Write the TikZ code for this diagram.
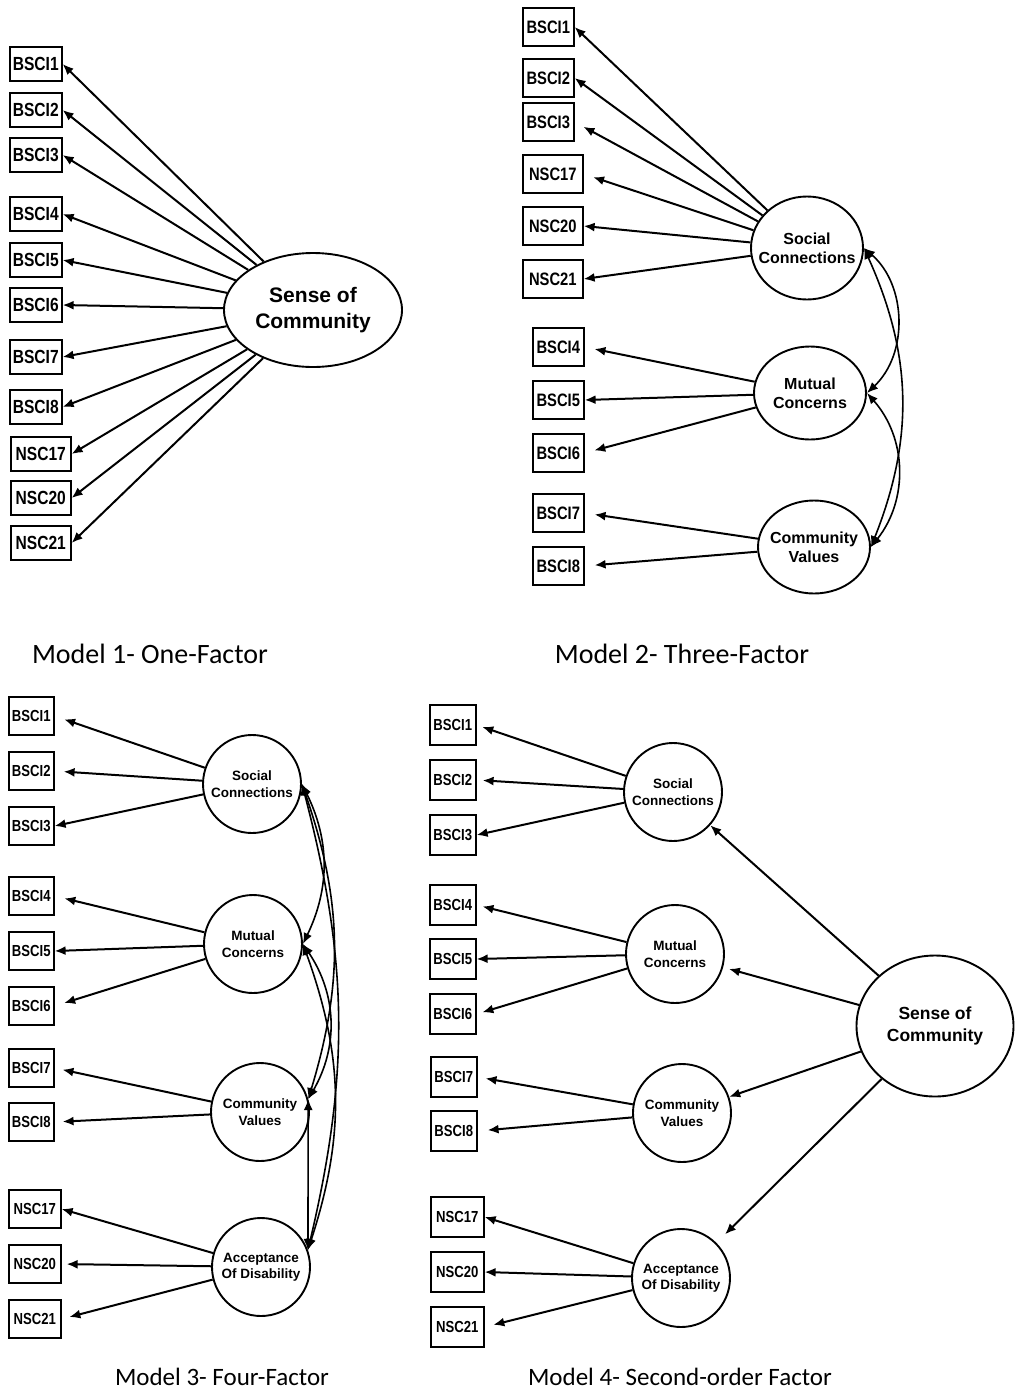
\documentclass[tikz,border=0pt]{standalone}
\usepackage{fontspec}
\setmainfont{Liberation Sans}
\newfontfamily\itemfont[FakeStretch=0.82]{Liberation Sans}
\newfontfamily\capfont{Carlito}
\usetikzlibrary{arrows.meta,shapes.geometric}
\tikzset{>={Latex[length=11pt,width=9pt]}}
\tikzset{
  box/.style={draw, line width=1.6pt, anchor=west, inner xsep=3pt, inner ysep=0pt},
  box1/.style={box, minimum height=34pt, minimum width=52pt, font={\itemfont\bfseries\fontsize{19pt}{19pt}\selectfont}},
  box2/.style={box, minimum height=38pt, minimum width=51pt, font={\itemfont\bfseries\fontsize{18pt}{18pt}\selectfont}},
  box3/.style={box, minimum height=38pt, minimum width=45pt, font={\itemfont\bfseries\fontsize{16pt}{16pt}\selectfont}},
  box4/.style={box, minimum height=40pt, minimum width=46pt, font={\itemfont\bfseries\fontsize{16pt}{16pt}\selectfont}},
  wide/.style={minimum width=#1},
  fac/.style={draw, line width=1.9pt, align=center, inner sep=0pt},
  fac1/.style={fac, ellipse, minimum width=178pt, minimum height=114pt, font={\bfseries\fontsize{21pt}{26pt}\selectfont}},
  fac2/.style={fac, ellipse, inner xsep=-12pt, minimum width=112pt, minimum height=93pt, font={\bfseries\fontsize{16pt}{19pt}\selectfont}},
  fac3/.style={fac, circle, minimum size=98pt, font={\bfseries\fontsize{13.5pt}{16.5pt}\selectfont}},
  fac4/.style={fac, ellipse, minimum width=157pt, minimum height=141pt, font={\bfseries\fontsize{17.5pt}{22pt}\selectfont}},
  load/.style={->, line width=2pt},
  gap/.style={shorten >=#1},
  cov/.style={<->, line width=1.6pt},
  title/.style={font={\capfont\fontsize{28pt}{28pt}\selectfont}},
  title2/.style={font={\capfont\fontsize{25pt}{25pt}\selectfont}}
}
\begin{document}
\begin{tikzpicture}[x=1pt, y=-1pt]
\useasboundingbox (0,0) rectangle (1018,1390);

% Model 1
\node[box1] (a1) at (9,64) {BSCI1};
\node[box1] (a2) at (9,110) {BSCI2};
\node[box1] (a3) at (9,155) {BSCI3};
\node[box1] (a4) at (9,214) {BSCI4};
\node[box1] (a5) at (9,260) {BSCI5};
\node[box1] (a6) at (9,305) {BSCI6};
\node[box1] (a7) at (9,357) {BSCI7};
\node[box1] (a8) at (9,407) {BSCI8};
\node[box1, wide=60pt] (a9) at (10,454) {NSC17};
\node[box1, wide=60pt] (a10) at (10,498) {NSC20};
\node[box1, wide=60pt] (a11) at (10,543) {NSC21};
\node[fac1] (soc1) at (313,310) {Sense of\\Community};
\draw[load] (soc1) -- (a1.east);
\draw[load] (soc1) -- (a2.east);
\draw[load] (soc1) -- (a3.east);
\draw[load] (soc1) -- (a4.east);
\draw[load] (soc1) -- (a5.east);
\draw[load] (soc1) -- (a6.east);
\draw[load] (soc1) -- (a7.east);
\draw[load] (soc1) -- (a8.east);
\draw[load] (soc1) -- (a9.east);
\draw[load] (soc1) -- (a10.east);
\draw[load] (soc1) -- (a11.east);
\node[title] (t1) at (150,654) {Model 1- One-Factor};

% Model 2
\node[box2] (b1) at (522,27) {BSCI1};
\node[box2] (b2) at (522,78) {BSCI2};
\node[box2] (b3) at (522,122) {BSCI3};
\node[box2, wide=60pt] (b4) at (522,174) {NSC17};
\node[box2, wide=60pt] (b5) at (522,226) {NSC20};
\node[box2, wide=60pt] (b6) at (522,279) {NSC21};
\node[box2] (b7) at (532,347) {BSCI4};
\node[box2] (b8) at (532,400) {BSCI5};
\node[box2] (b9) at (532,453) {BSCI6};
\node[box2] (b10) at (532,513) {BSCI7};
\node[box2] (b11) at (532,566) {BSCI8};
\node[fac2, minimum height=103pt] (sc2) at (807,248) {Social\\Connections};
\node[fac2] (mc2) at (810,393) {Mutual\\Concerns};
\node[fac2] (cv2) at (814,547) {Community\\Values};
\draw[load] (sc2) -- (b1.east);
\draw[load] (sc2) -- (b2.east);
\draw[load, gap=10pt] (sc2) -- (b3.east);
\draw[load, gap=10pt] (sc2) -- (b4.east);
\draw[load] (sc2) -- (b5.east);
\draw[load] (sc2) -- (b6.east);
\draw[load, gap=10pt] (mc2) -- (b7.east);
\draw[load] (mc2) -- (b8.east);
\draw[load, gap=10pt] (mc2) -- (b9.east);
\draw[load, gap=10pt] (cv2) -- (b10.east);
\draw[load, gap=10pt] (cv2) -- (b11.east);
\draw[cov] (sc2.east) to[bend left=48] (mc2.east);
\draw[cov] (sc2.east) to[bend left=23] (cv2.east);
\draw[cov] (mc2.east) to[bend left=40] (cv2.east);
\node[title] (t2) at (682,654) {Model 2- Three-Factor};

% Model 3
\node[box3] (c1) at (8,716) {BSCI1};
\node[box3] (c2) at (8,771) {BSCI2};
\node[box3] (c3) at (8,826) {BSCI3};
\node[box3] (c4) at (8,896) {BSCI4};
\node[box3] (c5) at (8,951) {BSCI5};
\node[box3] (c6) at (8,1006) {BSCI6};
\node[box3] (c7) at (8,1068) {BSCI7};
\node[box3] (c8) at (8,1122) {BSCI8};
\node[box3, wide=52pt] (c9) at (8,1209) {NSC17};
\node[box3, wide=52pt] (c10) at (8,1264) {NSC20};
\node[box3, wide=52pt] (c11) at (8,1319) {NSC21};
\node[fac3] (sc3) at (252,784) {Social\\Connections};
\node[fac3] (mc3) at (253,944) {Mutual\\Concerns};
\node[fac3] (cv3) at (260,1112) {Community\\Values};
\node[fac3] (ad3) at (261,1267) {Acceptance\\Of Disability};
\draw[load, gap=10pt] (sc3) -- (c1.east);
\draw[load, gap=9pt] (sc3) -- (c2.east);
\draw[load] (sc3) -- (c3.east);
\draw[load, gap=10pt] (mc3) -- (c4.east);
\draw[load] (mc3) -- (c5.east);
\draw[load, gap=10pt] (mc3) -- (c6.east);
\draw[load, gap=8pt] (cv3) -- (c7.east);
\draw[load, gap=8pt] (cv3) -- (c8.east);
\draw[load] (ad3) -- (c9.east);
\draw[load, gap=5pt] (ad3) -- (c10.east);
\draw[load, gap=8pt] (ad3) -- (c11.east);
\draw[cov] (sc3.east) to[bend left=26] (mc3.east);
\draw[cov] (sc3.east) to[bend left=18] (cv3.15);
\draw[cov] (sc3.east) to[bend left=14] (ad3.20);
\draw[cov] (mc3.east) to[bend left=32] (cv3.15);
\draw[cov] (mc3.east) to[bend left=19] (ad3.20);
\draw[cov] (cv3.15) -- (ad3.20);
\node[title2] (t3) at (222,1377) {Model 3- Four-Factor};

% Model 4
\node[box4] (d1) at (429,725) {BSCI1};
\node[box4] (d2) at (429,780) {BSCI2};
\node[box4] (d3) at (429,835) {BSCI3};
\node[box4] (d4) at (429,905) {BSCI4};
\node[box4] (d5) at (429,959) {BSCI5};
\node[box4] (d6) at (429,1014) {BSCI6};
\node[box4] (d7) at (430,1077) {BSCI7};
\node[box4] (d8) at (430,1131) {BSCI8};
\node[box4, wide=53pt] (d9) at (430,1217) {NSC17};
\node[box4, wide=53pt] (d10) at (430,1272) {NSC20};
\node[box4, wide=53pt] (d11) at (430,1327) {NSC21};
\node[fac3] (sc4) at (673,792) {Social\\Connections};
\node[fac3] (mc4) at (675,954) {Mutual\\Concerns};
\node[fac3] (cv4) at (682,1113) {Community\\Values};
\node[fac3] (ad4) at (681,1278) {Acceptance\\Of Disability};
\node[fac4] (soc4) at (935,1026) {Sense of\\Community};
\draw[load, gap=6pt] (sc4) -- (d1.east);
\draw[load, gap=6pt] (sc4) -- (d2.east);
\draw[load] (sc4) -- (d3.east);
\draw[load, gap=6pt] (mc4) -- (d4.east);
\draw[load] (mc4) -- (d5.east);
\draw[load, gap=6pt] (mc4) -- (d6.east);
\draw[load, gap=8pt] (cv4) -- (d7.east);
\draw[load, gap=10pt] (cv4) -- (d8.east);
\draw[load] (ad4) -- (d9.east);
\draw[load] (ad4) -- (d10.east);
\draw[load, gap=9pt] (ad4) -- (d11.east);
\draw[load] (soc4) -- (sc4);
\draw[load, gap=6pt] (soc4) -- (mc4);
\draw[load] (soc4) -- (cv4);
\draw[load, gap=12pt] (soc4) -- (ad4);
\node[title2] (t4) at (680,1377) {Model 4- Second-order Factor};
\end{tikzpicture}
\end{document}
